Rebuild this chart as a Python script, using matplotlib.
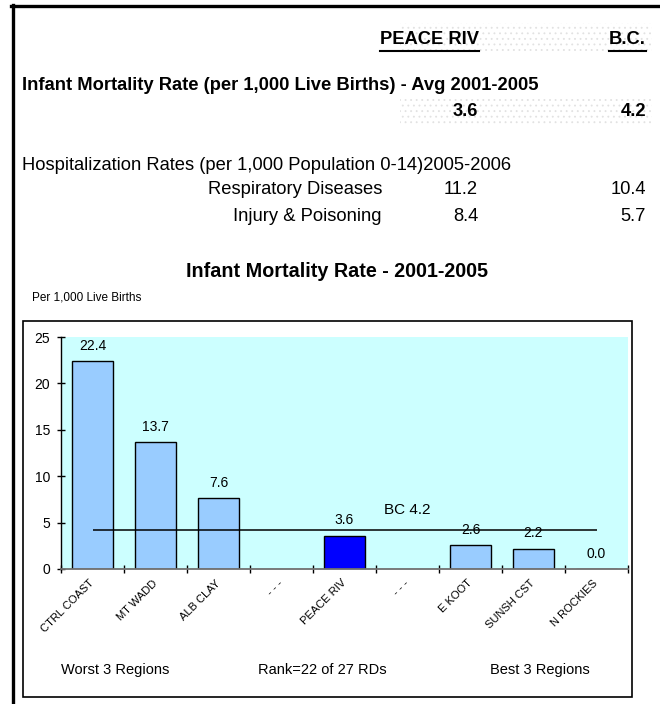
import numpy as np
import matplotlib.pyplot as plt
from matplotlib import patches
from matplotlib.lines import Line2D

plt.rcParams['font.family'] = ['Liberation Sans', 'DejaVu Sans']
plt.rcParams['hatch.linewidth'] = 0.6

W, H = 660, 704

# summary table
col_headers = ['PEACE RIV', 'B.C.']
imr_title = 'Infant Mortality Rate (per 1,000 Live Births) - Avg 2001-2005'
imr_values = ['3.6', '4.2']
hosp_title = 'Hospitalization Rates (per 1,000 Population 0-14)2005-2006'
hosp_rows = ['Respiratory Diseases', 'Injury & Poisoning']
hosp_region = ['11.2', '8.4']
hosp_bc = ['10.4', '5.7']

# bar chart
regions = ['CTRL COAST', 'MT WADD', 'ALB CLAY', '- - -', 'PEACE RIV', '- - -',
           'E KOOT', 'SUNSH CST', 'N ROCKIES']
rates = [22.4, 13.7, 7.6, np.nan, 3.6, np.nan, 2.6, 2.2, 0.0]
highlight = 'PEACE RIV'
bc_rate = 4.2
footer = ['Worst 3 Regions', 'Rank=22 of 27 RDs', 'Best 3 Regions']


def fx(x):
    return x / W


def fy(y):
    return 1 - y / H


fig = plt.figure(figsize=(W / 100, H / 100), dpi=100)

# outer frame (top and left only)
fig.add_artist(Line2D([fx(11), fx(660)], [fy(5.5), fy(5.5)], color='k', lw=2.4))
fig.add_artist(Line2D([fx(12.5), fx(12.5)], [fy(4.5), fy(704)], color='k', lw=2.4))

# dotted shading behind the number columns
for y0, y1 in [(23, 51), (98, 125)]:
    fig.add_artist(patches.Rectangle((fx(400), fy(y1)), fx(652) - fx(400), fy(y0) - fy(y1),
                                     facecolor='none', edgecolor='#e2e2e2', hatch='...',
                                     lw=0, transform=fig.transFigure))

# table texts
fs = 13.2
hdr = [fig.text(fx(479), fy(40), col_headers[0], ha='right', va='center', fontsize=fs, weight='bold'),
       fig.text(fx(646), fy(40), col_headers[1], ha='right', va='center', fontsize=fs, weight='bold')]
fig.text(fx(22), fy(86), imr_title, ha='left', va='center', fontsize=fs, weight='bold')
fig.text(fx(478), fy(112), imr_values[0], ha='right', va='center', fontsize=fs, weight='bold')
fig.text(fx(646), fy(112), imr_values[1], ha='right', va='center', fontsize=fs, weight='bold')
fig.text(fx(22), fy(165), hosp_title, ha='left', va='center', fontsize=fs)
for i, name in enumerate(hosp_rows):
    y = 190 + i * 26
    fig.text(fx(382), fy(y), name, ha='right', va='center', fontsize=fs)
    fig.text(fx(478), fy(y), hosp_region[i], ha='right', va='center', fontsize=fs)
    fig.text(fx(646), fy(y), hosp_bc[i], ha='right', va='center', fontsize=fs)

# chart title and unit
fig.text(fx(337), fy(271), 'Infant Mortality Rate - 2001-2005', ha='center', va='center',
         fontsize=14.2, weight='bold')
fig.text(fx(32), fy(297), 'Per 1,000 Live Births', ha='left', va='center', fontsize=8.5)

# chart box
fig.add_artist(patches.Rectangle((fx(23), fy(697)), fx(632) - fx(23), fy(321) - fy(697),
                                 facecolor='none', edgecolor='k', lw=1.2,
                                 transform=fig.transFigure))

ax = fig.add_axes([fx(61), fy(569), fx(628) - fx(61), fy(337) - fy(569)])
ax.set_facecolor('#CCFFFF')
x = np.arange(len(regions))
colors = ['#0000FF' if r == highlight else '#99CCFF' for r in regions]
ax.bar(x, rates, width=0.66, color=colors, edgecolor='k', lw=1)
for xi, v in zip(x, rates):
    if not np.isnan(v):
        ax.annotate(f'{v:.1f}', (xi, v), xytext=(0, 11), textcoords='offset points',
                    ha='center', va='center', fontsize=10)
ax.hlines(bc_rate, 0, len(regions) - 1, color='k', lw=1.1)
ax.annotate(f'BC {bc_rate}', (5, bc_rate), xytext=(0, 14.5), textcoords='offset points',
            ha='center', va='center', fontsize=11)

ax.set_xlim(-0.5, len(regions) - 0.5)
ax.set_ylim(0, 25)
ax.set_yticks(np.arange(0, 26, 5))
ax.set_xticks(np.arange(-0.5, len(regions), 1))
ax.set_xticklabels([])
ax.set_xticks(x, minor=True)
ax.set_xticklabels(regions, minor=True)
ax.tick_params(axis='both', which='major', direction='inout', length=6, width=1, labelsize=10, pad=5)
ax.tick_params(axis='x', which='minor', length=0, labelsize=8, pad=9)
for lab in ax.get_xticklabels(minor=True):
    lab.set_rotation(45)
    lab.set_ha('right')
    lab.set_va('center')
    lab.set_rotation_mode('anchor')
for s in ['top', 'right']:
    ax.spines[s].set_visible(False)
ax.spines['bottom'].set_color('#707070')
ax.spines['bottom'].set_linewidth(1.3)
ax.spines['left'].set_linewidth(1)

for cx, t in zip([115, 322, 540], footer):
    fig.text(fx(cx), fy(670), t, ha='center', va='center', fontsize=10.5)

# underline column headers
fig.canvas.draw()
r = fig.canvas.get_renderer()
for t in hdr:
    bb = t.get_window_extent(r)
    yline = bb.y0 - 2
    fig.add_artist(Line2D([bb.x0 / W, bb.x1 / W], [yline / H, yline / H], color='k', lw=1.5))

fig.savefig('out.png', dpi=100)
